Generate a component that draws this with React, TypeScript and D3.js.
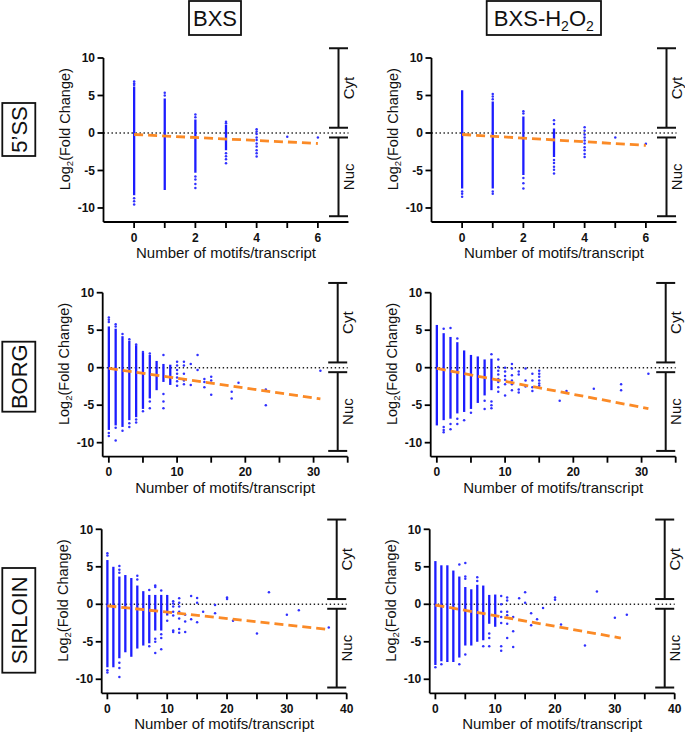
import React from "react";
import * as d3 from "d3";

type Col = [number, number, number];
type Pt = [number, number];

// ---------- labels ----------
const colHeaders = ["BXS", "BXS-H2O2"];
const rowLabels = ["5\u2019SS", "BORG", "SIRLOIN"];
const yTicks = [10, 5, 0, -5, -10];
const xTickRows = [[0, 1, 2, 3, 4, 5, 6], [0, 5, 10, 15, 20, 25, 30, 35], [0, 5, 10, 15, 20, 25, 30, 35, 40]];
const xLabelRows = [[0, 2, 4, 6], [0, 10, 20, 30], [0, 10, 20, 30, 40]];
const xDomains: [number, number][] = [[-1, 7], [-0.9, 35], [-0.95, 40]];
const yDomain: [number, number] = [-11.87, 10];

// ---------- 5'SS / BXS ----------
const ssBxsDense: Col[] = [[0, -8.3, 6.2], [1, -7.6, 4.6], [2, -5.3, 1.8], [3, -2.3, 1.1]];
const ssBxsPoints: Pt[] = [
  [0, 6.85], [0, 6.6], [0, 6.4], [0, -8.7], [0, -9.1], [0, -9.55],
  [1, 5.35], [1, 5.0],
  [2, 2.45], [2, 2.1], [2, -5.8], [2, -6.2], [2, -6.8], [2, -7.35],
  [3, 1.5], [3, 1.3], [3, -2.7], [3, -3.1], [3, -3.5], [3, -4.05],
  [4, 0.5], [4, 0.2], [4, -0.15], [4, -0.6], [4, -0.95], [4, -1.4], [4, -1.8], [4, -2.3], [4, -2.7], [4, -3.15],
  [5, -0.5], [6, -0.6],
];
const ssBxsFit = [0, -0.2, 6, -1.4];

// ---------- 5'SS / BXS-H2O2 ----------
const ssH2Dense: Col[] = [[0, -7.4, 5.7], [1, -7.4, 4.2], [2, -5.6, 2.2], [3, -3.2, 0.6]];
const ssH2Points: Pt[] = [
  [0, -7.8], [0, -8.1], [0, -8.5],
  [1, 5.2], [1, 4.85], [1, 4.5], [1, -7.8], [1, -8.1],
  [2, 2.9], [2, 2.6], [2, -6.0], [2, -6.7], [2, -7.4],
  [3, 1.7], [3, 1.2], [3, -3.6], [3, -4.0], [3, -4.5], [3, -4.9], [3, -5.4],
  [4, 0.75], [4, 0.3], [4, -0.2], [4, -0.6], [4, -1.0], [4, -1.4], [4, -1.9], [4, -2.3], [4, -2.8], [4, -3.2],
  [5, -0.6], [6, -1.45],
];
const ssH2Fit = [0, -0.2, 6, -1.65];

// ---------- BORG / BXS ----------
const borgBxsDense: Col[] = [
  [0, -8.3, 5.5], [1, -7.7, 5.2], [2, -7.9, 4.2], [3, -7.0, 3.6], [4, -6.6, 3.0],
  [5, -5.5, 2.0], [6, -4.1, 1.7], [7, -3.0, 0.9], [8, -1.9, 0.5], [9, -2.3, 0.4],
];
const borgBxsPoints: Pt[] = [
  [0, 6.7], [0, 6.4], [0, 6.1], [0, -8.7], [0, -9.1],
  [1, 5.8], [1, 5.5], [1, -8.0], [1, -9.7],
  [2, 4.5], [2, -8.4],
  [3, 3.8], [3, -7.4], [3, -7.9],
  [4, 3.1], [4, -6.9], [4, -7.3],
  [5, 2.1], [5, -5.8],
  [6, 1.9], [6, -4.5], [6, -5.4],
  [8, 1.7], [8, -3.5], [8, -4.5], [8, -5.4],
  [10, 0.8], [10, 0.3], [10, -0.3], [10, -0.8], [10, -1.3], [10, -1.8], [10, -2.4],
  [11, 0.8], [11, 0.3], [11, -0.8], [11, -1.7], [11, -2.2],
  [12, 0.5], [12, -2.3],
  [13, 1.7], [13, -0.3],
  [14, -1.5], [14, -1.9], [14, -2.6],
  [15, -1.2], [15, -1.7], [15, -3.6],
  [18, -3.2], [18, -4.1],
  [19, -2.0],
  [23, -2.9], [23, -5.0],
  [31, -0.4],
];
const borgBxsFit = [0, -0.1, 31, -4.15];

// ---------- BORG / BXS-H2O2 ----------
const borgH2Dense: Col[] = [
  [0, -7.7, 5.7], [1, -7.0, 4.6], [2, -6.8, 4.1], [3, -6.1, 3.4], [4, -5.9, 2.3],
  [5, -5.5, 1.7], [6, -4.7, 1.5], [7, -3.7, 1.1], [8, -3.0, 1.2],
];
const borgH2Points: Pt[] = [
  [1, 5.2], [1, -7.9], [1, -8.3], [1, -8.6],
  [2, 5.3], [2, -7.5], [2, -8.2],
  [3, 3.9], [3, -6.8], [3, -7.5],
  [4, -7.0],
  [5, -6.0],
  [7, -4.4], [7, -5.5],
  [8, 1.8], [8, -4.5], [8, -5.0], [8, -5.4],
  [9, 1.1], [9, 0.1], [9, -0.4], [9, -0.9], [9, -1.5], [9, -1.9], [9, -2.6], [9, -3.2],
  [10, 0.0], [10, -0.5], [10, -1.1], [10, -1.6], [10, -2.2], [10, -3.7],
  [11, 0.5], [11, -0.1], [11, -1.0], [11, -1.7], [11, -2.2], [11, -3.0],
  [12, -0.5], [12, -0.9], [12, -2.9], [12, -3.3],
  [13, -0.1], [13, -1.7], [13, -2.5],
  [14, -0.8], [14, -1.7], [14, -2.6], [14, -3.1],
  [15, -0.4], [15, -0.8], [15, -1.2], [15, -1.7], [15, -2.1], [15, -2.4],
  [18, -4.4], [19, -3.1], [23, -2.8], [27, -2.2], [27, -3.0], [31, -0.8],
];
const borgH2Fit = [0, -0.1, 31, -5.45];

// ---------- SIRLOIN / BXS ----------
const sirBxsDense: Col[] = [
  [0, -8.4, 5.9], [1, -8.4, 5.0], [2, -7.2, 3.7], [3, -6.4, 3.9], [4, -7.0, 3.5],
  [5, -5.9, 2.5], [6, -5.5, 1.75], [7, -5.2, 1.25], [8, -3.5, 1.25], [9, -3.5, 1.25], [10, -1.5, 1.25],
];
const sirBxsPoints: Pt[] = [
  [0, 6.8], [0, 6.5], [0, -8.8], [0, -9.1],
  [2, 5.1], [2, 4.6], [2, 4.2], [2, -7.8], [2, -8.5], [2, -9.7],
  [5, 3.8], [5, 3.3],
  [7, 1.9], [7, -5.6],
  [8, 2.5], [8, 2.3], [8, -4.6], [8, -5.0], [8, -6.5],
  [9, 1.85], [9, -4.0], [9, -4.5], [9, -6.0],
  [10, -2.2],
  [11, 0.4], [11, 0.1], [11, -0.3], [11, -1.0], [11, -1.5], [11, -3.5], [11, -3.7],
  [12, 0.8], [12, 0.2], [12, -0.3], [12, -1.0], [12, -1.9], [12, -3.3], [12, -3.8],
  [13, -1.4], [13, -2.3], [13, -3.7],
  [14, 1.1], [14, -2.0],
  [15, 0.85], [15, 0.2], [15, -2.4],
  [16, -1.0],
  [18, -0.1], [18, -1.2],
  [20, 0.9], [20, 0.7],
  [21, -2.2], [25, -3.9], [27, 1.6], [30, -1.4], [32, -0.8], [37, -3.1],
];
const sirBxsFit = [0, -0.2, 37, -3.35];

// ---------- SIRLOIN / BXS-H2O2 ----------
const sirH2Dense: Col[] = [
  [0, -8.1, 5.76], [1, -7.6, 5.2], [2, -7.7, 5.2], [3, -7.7, 4.5], [4, -7.1, 3.7],
  [5, -5.5, 2.3], [6, -5.5, 2.0], [7, -5.0, 2.6], [8, -4.8, 2.5], [9, -2.6, 1.25], [10, -3.0, 1.3],
];
const sirH2Points: Pt[] = [
  [0, -8.4], [1, -8.0],
  [4, 5.3], [4, -8.0],
  [5, 5.5], [5, 3.7], [5, 3.4], [5, -6.7],
  [7, 3.6], [7, 3.1],
  [8, -5.6],
  [9, -3.9], [9, -4.5], [9, -5.6],
  [11, 1.1], [11, 0.0], [11, -1.0], [11, -1.7], [11, -2.5], [11, -5.6], [11, -6.2],
  [12, 0.9], [12, 0.5], [12, -1.0], [12, -1.45], [12, -2.6], [12, -4.5],
  [13, -1.7], [13, -3.6], [13, -5.7],
  [14, 0.8],
  [15, 1.6], [15, 0.2],
  [16, -1.2], [16, -2.8],
  [17, -2.0], [18, -0.5],
  [20, 0.9], [20, 0.6],
  [21, -2.7], [25, -5.5], [27, 1.7], [30, -1.8], [32, -1.4],
];
const sirH2Fit = [0, -0.1, 31, -4.5];

const panelData = [
  [ssBxsDense, ssBxsPoints, ssBxsFit],
  [ssH2Dense, ssH2Points, ssH2Fit],
  [borgBxsDense, borgBxsPoints, borgBxsFit],
  [borgH2Dense, borgH2Points, borgH2Fit],
  [sirBxsDense, sirBxsPoints, sirBxsFit],
  [sirH2Dense, sirH2Points, sirH2Fit],
] as [Col[], Pt[], number[]][];

// ---------- layout ----------
const W = 685, H = 735;
const rowTop = [58, 292.7, 529.3];
const yAxisX0 = [103.5, 102.7, 101.7];
const colOffset = 328;
const axisW = 245;
const plotH = 164;
const FONT = "'Liberation Sans', Arial, Helvetica, sans-serif";
const BLUE = "#1c1cff";
const ORANGE = "#fb8a26";

const rowBoxes = [
  { y0: 103, y1: 156 },
  { y0: 341.7, y1: 411.7 },
  { y0: 568, y1: 672.7 },
];
const headerBoxes = [
  { x0: 189, x1: 241 },
  { x0: 486.7, x1: 601 },
];

function Panel({ row, col }: { row: number; col: number }) {
  const [dense, pts, fit] = panelData[row * 2 + col];
  const left = yAxisX0[row] + col * colOffset;
  const top = rowTop[row];
  const x = d3.scaleLinear().domain(xDomains[row]).range([left, left + axisW]);
  const yRangeBottom = top + plotH;
  const y = d3.scaleLinear().domain(yDomain).range([yRangeBottom, top]);
  const axisY = yRangeBottom;
  const bx = left + 235;
  const line = d3.line<[number, number]>().x((d) => x(d[0])).y((d) => y(d[1]));
  const fitPath = line([[fit[0], fit[1]], [fit[2], fit[3]]]) || "";
  const capW = 9.5;
  return (
    <g>
      {/* zero dotted line */}
      <line x1={left} x2={bx + 10} y1={y(0)} y2={y(0)} stroke="#222" strokeWidth={1.4} strokeDasharray="1.4 2.6" />
      {/* dense columns */}
      {dense.map((d, i) => (
        <line key={"d" + i} x1={x(d[0])} x2={x(d[0])} y1={y(d[1])} y2={y(d[2])} stroke={BLUE} strokeWidth={2.3} />
      ))}
      {/* points */}
      {pts.map((p, i) => (
        <circle key={"p" + i} cx={x(p[0])} cy={y(p[1])} r={1.25} fill="#3030ff" />
      ))}
      {/* fit */}
      <path d={fitPath} stroke={ORANGE} strokeWidth={2.8} strokeDasharray="9 5" fill="none" />
      {/* axes */}
      <line x1={left} x2={left} y1={axisY} y2={y(10)} stroke="#000" strokeWidth={1.8} />
      <line x1={left} x2={left + axisW} y1={axisY} y2={axisY} stroke="#000" strokeWidth={1.8} />
      {yTicks.map((t) => (
        <g key={"yt" + t}>
          <line x1={left - 6} x2={left} y1={y(t)} y2={y(t)} stroke="#000" strokeWidth={1.8} />
          <text x={left - 8.5} y={y(t)} dy="0.35em" textAnchor="end" fontSize={12} fontWeight="bold" fontFamily={FONT} fill="#111">{t}</text>
        </g>
      ))}
      {xTickRows[row].map((t) => (
        <line key={"xt" + t} x1={x(t)} x2={x(t)} y1={axisY} y2={axisY + 6} stroke="#000" strokeWidth={1.8} />
      ))}
      {xLabelRows[row].map((t) => (
        <text key={"xl" + t} x={x(t)} y={axisY + 19.5} textAnchor="middle" fontSize={12} fontWeight="bold" fontFamily={FONT} fill="#111">{t}</text>
      ))}
      <text x={left + axisW / 2} y={axisY + 36} textAnchor="middle" fontSize={15} fontFamily={FONT} fill="#111">Number of motifs/transcript</text>
      {/* y label */}
      <text transform={`translate(${left - 38.5},${y(0.5)}) rotate(-90)`} textAnchor="middle" dominantBaseline="central" fontSize={14.5} fontFamily={FONT} fill="#111">
        Log<tspan fontSize={9.5} dy="4">2</tspan><tspan dy="-4">(Fold Change)</tspan>
      </text>
      {/* bracket */}
      <g stroke="#111" strokeWidth={2}>
        <line x1={bx} x2={bx} y1={y(11.3)} y2={y(0.7)} />
        <line x1={bx - capW} x2={bx + capW} y1={y(11.3)} y2={y(11.3)} />
        <line x1={bx - capW} x2={bx + capW} y1={y(0.7)} y2={y(0.7)} />
        <line x1={bx} x2={bx} y1={y(-0.6)} y2={y(-11.1)} />
        <line x1={bx - capW} x2={bx + capW} y1={y(-0.6)} y2={y(-0.6)} />
        <line x1={bx - capW} x2={bx + capW} y1={y(-11.1)} y2={y(-11.1)} />
      </g>
      <text transform={`translate(${bx + 15.5},${(y(11.3) + y(0.7)) / 2}) rotate(-90)`} textAnchor="middle" fontSize={15} fontFamily={FONT} fill="#111">Cyt</text>
      <text transform={`translate(${bx + 15.5},${(y(-0.6) + y(-11.1)) / 2}) rotate(-90)`} textAnchor="middle" fontSize={15} fontFamily={FONT} fill="#111">Nuc</text>
    </g>
  );
}

export default function App() {
  return (
    <svg width={W} height={H} style={{ position: "absolute", left: 0, top: 0, display: "block", background: "#fff" }}>
      <rect x={0} y={0} width={W} height={H} fill="#fff" />
      {headerBoxes.map((b, i) => (
        <g key={"h" + i}>
          <rect x={b.x0} y={1} width={b.x1 - b.x0} height={34} fill="none" stroke="#111" strokeWidth={1.8} />
          <text x={(b.x0 + b.x1) / 2} y={26} textAnchor="middle" fontSize={22} fontFamily={FONT} fill="#111">
            {i === 0 ? colHeaders[0] : (
              <>BXS-H<tspan fontSize={14} dy="5">2</tspan><tspan dy="-5">O</tspan><tspan fontSize={14} dy="5">2</tspan></>
            )}
          </text>
        </g>
      ))}
      {rowBoxes.map((b, i) => (
        <g key={"r" + i}>
          <rect x={2.3} y={b.y0} width={33} height={b.y1 - b.y0} fill="none" stroke="#111" strokeWidth={1.8} />
          <text transform={`translate(${26.5},${(b.y0 + b.y1) / 2}) rotate(-90)`} textAnchor="middle" fontSize={22} fontFamily={FONT} fill="#111">{rowLabels[i]}</text>
        </g>
      ))}
      {[0, 1, 2].map((r) => [0, 1].map((c) => <Panel key={`${r}-${c}`} row={r} col={c} />))}
    </svg>
  );
}
